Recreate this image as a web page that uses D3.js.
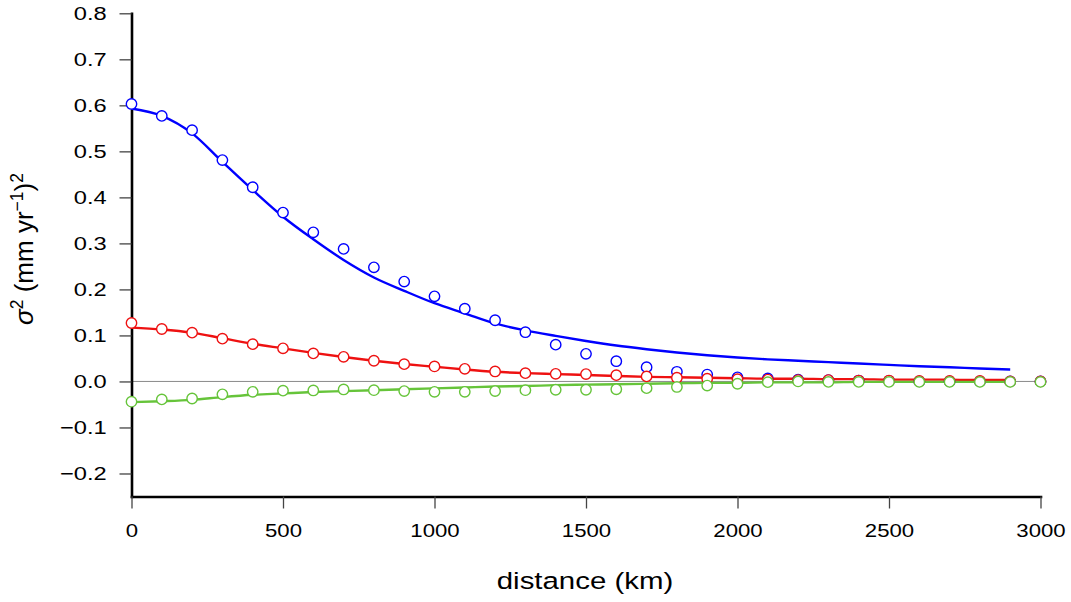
<!DOCTYPE html>
<html>
<head>
<meta charset="utf-8">
<script src="https://cdn.jsdelivr.net/npm/d3@7"></script>
<style>
  body { margin: 0; background: #fff; }
  svg text { font-family: "Liberation Sans", Arial, Helvetica, sans-serif; fill: #000; }
</style>
</head>
<body>
<svg id="chart"></svg>
<script>
// distances (km) where the binned covariances were computed
const distance = [0, 100, 200, 300, 400, 500, 600, 700, 800, 900, 1000, 1100, 1200, 1300, 1400, 1500,
                  1600, 1700, 1800, 1900, 2000, 2100, 2200, 2300, 2400, 2500, 2600, 2700, 2800, 2900, 3000]
// model curves stop at 2900 km
const fitDistance = distance.slice(0, 30)

const blueObs = [0.603, 0.577, 0.546, 0.481, 0.422, 0.367, 0.324, 0.288, 0.248, 0.217, 0.185, 0.158, 0.133, 0.107, 0.080, 0.060,
                 0.044, 0.031, 0.021, 0.015, 0.009, 0.0065, 0.004, 0.003, 0.002, 0.001, 0.0, 0.0, 0.0, 0.0, 0.0]
const blueFit = [0.593, 0.577, 0.539, 0.477, 0.416, 0.358, 0.309, 0.264, 0.226, 0.197, 0.170, 0.148, 0.126, 0.111, 0.099,
                 0.088, 0.078, 0.070, 0.063, 0.057, 0.052, 0.048, 0.045, 0.042, 0.039, 0.036, 0.033, 0.031, 0.028, 0.026]

const redObs = [0.127, 0.114, 0.106, 0.093, 0.081, 0.072, 0.061, 0.0535, 0.045, 0.0376, 0.0326, 0.0274, 0.0217, 0.018, 0.0165, 0.016,
                0.0137, 0.011, 0.008, 0.006, 0.005, 0.004, 0.003, 0.003, 0.002, 0.002, 0.001, 0.001, 0.001, 0.0, 0.0]
const redFit = [0.117, 0.113, 0.106, 0.094, 0.082, 0.072, 0.062, 0.053, 0.045, 0.038, 0.032, 0.026, 0.021, 0.018, 0.016,
                0.014, 0.012, 0.010, 0.009, 0.008, 0.007, 0.006, 0.006, 0.005, 0.005, 0.004, 0.004, 0.004, 0.003, 0.003]

const greenObs = [-0.044, -0.039, -0.037, -0.028, -0.0226, -0.020, -0.0196, -0.0174, -0.019, -0.021, -0.0226, -0.0226, -0.021, -0.019, -0.018, -0.018,
                  -0.017, -0.0146, -0.012, -0.009, -0.005, -0.0015, 0.0, -0.001, -0.001, -0.001, -0.001, -0.001, -0.001, -0.001, -0.001]
const greenFit = [-0.045, -0.043, -0.040, -0.034, -0.029, -0.026, -0.023, -0.021, -0.019, -0.017, -0.015, -0.013, -0.011, -0.010, -0.008,
                  -0.007, -0.006, -0.005, -0.004, -0.003, -0.003, -0.002, -0.002, -0.002, -0.001, -0.001, -0.001, -0.001, -0.001, -0.001]

const xTicks = [0, 500, 1000, 1500, 2000, 2500, 3000]
const yTicks = [-0.2, -0.1, 0.0, 0.1, 0.2, 0.3, 0.4, 0.5, 0.6, 0.7, 0.8]

const series = [
    { obs: blueObs, fit: blueFit, color: '#0000ff' },
    { obs: redObs, fit: redFit, color: '#ee1111' },
    { obs: greenObs, fit: greenFit, color: '#66c43a' }
]

const sizes = { width: 1071, height: 602 }

let svg = d3.select('#chart')
    .attr('width', sizes.width)
    .attr('height', sizes.height)

let x = d3.scaleLinear().domain([0, 3000]).range([131.5, 1040.5])
let y = d3.scaleLinear().domain([-0.25, 0.8]).range([496.5, 13.3])

// the picture text is a bit wider than plain Arial
const stretch = (sel, k) =>
{
    sel.each(function()
    {
        const w = this.getComputedTextLength()
        d3.select(this).attr('textLength', w * k).attr('lengthAdjust', 'spacingAndGlyphs')
    })
}

// zero line
svg.append('line')
    .attr('x1', x(0)).attr('x2', x(3000))
    .attr('y1', y(0)).attr('y2', y(0))
    .attr('stroke', '#8a8a8a')
    .attr('stroke-width', 1)

// axes
let yAxis = svg.append('g')
    .attr('transform', `translate(${x(0)},0)`)
    .call(d3.axisLeft(y).tickValues(yTicks).tickFormat(d3.format('.1f')).tickSize(12).tickSizeOuter(0).tickPadding(12.8))

let xAxis = svg.append('g')
    .attr('transform', `translate(0,${y(-0.25)})`)
    .call(d3.axisBottom(x).tickValues(xTicks).tickFormat(d3.format('d')).tickSize(12).tickSizeOuter(0).tickPadding(14.8))

svg.selectAll('.domain')
    .attr('stroke', '#000')
    .attr('stroke-width', 2.6)
    .attr('stroke-linecap', 'square')
svg.selectAll('.tick line')
    .attr('stroke', '#444')
    .attr('stroke-width', 1.3)
svg.selectAll('.tick text')
    .attr('font-size', 18.8)
    .attr('font-family', null)
    .attr('fill', '#000')

stretch(yAxis.selectAll('.tick text'), 1.26)
stretch(xAxis.selectAll('.tick text'), 1.18)

// fitted curves
let sLine = d3.line()
    .x((d, i) => x(fitDistance[i]))
    .y(d => y(d))
    .curve(d3.curveMonotoneX)

series.forEach(s =>
{
    svg.append('path')
        .attr('d', sLine(s.fit))
        .attr('fill', 'none')
        .attr('stroke', s.color)
        .attr('stroke-width', 2.4)
})

// observed points on top
series.forEach(s =>
{
    svg.append('g')
        .selectAll('circle')
        .data(s.obs)
        .join('circle')
        .attr('cx', (d, i) => x(distance[i]))
        .attr('cy', d => y(d))
        .attr('r', 5.2)
        .attr('fill', '#fff')
        .attr('stroke', s.color)
        .attr('stroke-width', 1.4)
})

// axis titles
let xTitle = svg.append('text')
    .attr('x', 585)
    .attr('y', 589)
    .attr('text-anchor', 'middle')
    .attr('font-size', 24.5)
    .text('distance (km)')
stretch(xTitle, 1.2)

let yTitle = svg.append('text')
    .attr('transform', 'translate(33,249) rotate(-90)')
    .attr('text-anchor', 'middle')
    .attr('font-size', 26)
yTitle.append('tspan').attr('font-style', 'italic').text('σ')
yTitle.append('tspan').attr('font-size', 17.5).attr('dy', -10).text('2')
yTitle.append('tspan').attr('dy', 10).text(' (mm yr')
yTitle.append('tspan').attr('font-size', 17.5).attr('dy', -10).text('−1')
yTitle.append('tspan').attr('dy', 10).text(')')
yTitle.append('tspan').attr('font-size', 17.5).attr('dy', -10).text('2')
</script>
</body>
</html>
